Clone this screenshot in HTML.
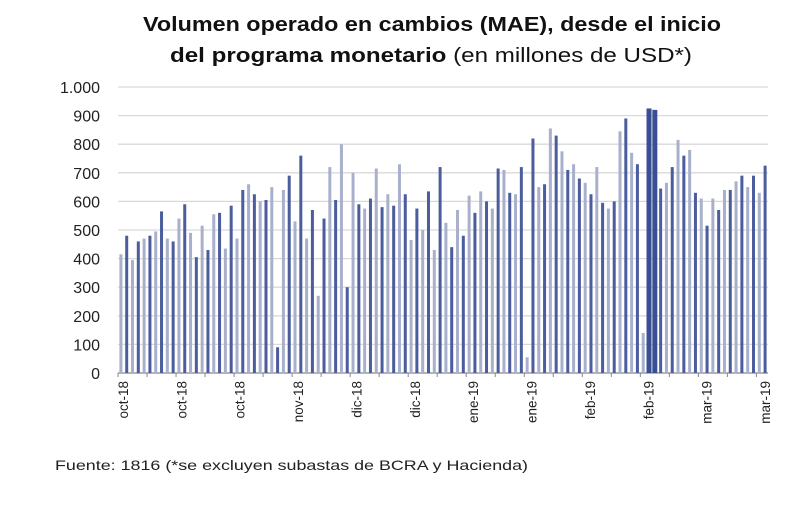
<!DOCTYPE html>
<html><head><meta charset="utf-8"><style>
body{margin:0;background:#fff;width:800px;height:514px;overflow:hidden;font-family:"Liberation Sans",sans-serif}
</style></head><body>
<svg width="800" height="514">
<text x="143" y="31" textLength="578" lengthAdjust="spacingAndGlyphs" font-size="20" font-weight="bold" fill="#111">Volumen operado en cambios (MAE), desde el inicio</text>
<text x="170" y="62" textLength="522" lengthAdjust="spacingAndGlyphs" font-size="20" fill="#111"><tspan font-weight="bold">del programa monetario</tspan> (en millones de USD*)</text>
<g id="grid"></g><g id="bars"></g><g id="xaxis"></g>
<text x="55" y="470" textLength="473" lengthAdjust="spacingAndGlyphs" font-size="14" fill="#222">Fuente: 1816 (*se excluyen subastas de BCRA y Hacienda)</text>
</svg>
<script>
const values=[415,480,395,460,470,480,495,565,470,460,540,590,490,405,515,430,555,560,435,585,470,640,660,625,600,605,650,90,640,690,530,760,470,570,270,540,720,605,800,300,700,590,575,610,715,580,625,585,730,625,465,575,500,635,430,720,525,440,570,480,620,560,635,600,575,715,710,630,625,720,55,820,650,660,855,830,775,710,730,680,665,625,720,595,575,600,845,890,770,730,140,925,920,645,665,720,815,760,780,630,610,515,610,570,640,640,670,690,650,690,630,725];
const yTicks=[0,100,200,300,400,500,600,700,800,900,1000];
const yLabels=["0","100","200","300","400","500","600","700","800","900","1.000"];
const xLabels=["oct-18","oct-18","oct-18","nov-18","dic-18","dic-18","ene-19","ene-19","feb-19","feb-19","mar-19","mar-19"];
const NS="http://www.w3.org/2000/svg";
const L=118,R=768,Y0=373,Y1=87;
const y=v=>Y0-(v/1000)*(Y0-Y1);
const step=(R-L)/values.length;
const x=i=>L+step*(i+0.5);
function mk(t,a,p){const e=document.createElementNS(NS,t);for(const k in a)e.setAttribute(k,a[k]);document.getElementById(p).appendChild(e);return e;}
yTicks.forEach((v,i)=>{
 const g=mk('line',{x1:L,x2:R,y1:y(v),y2:y(v),stroke:i?'#d9d9d9':'#888','stroke-width':1.3},'grid');
 
 
 const t=mk('text',{x:100,y:y(v)+6,'text-anchor':'end','font-size':16,fill:'#222'},'grid');
 t.textContent=yLabels[i];
 
 
});
values.forEach((v,i)=>{
 const big=v>=900&&v<=930;
 const w=big?5:3;
 const b=mk('rect',{x:x(i)-w/2,y:y(v),width:w,height:Y0-y(v),fill:big?'#3a4f93':(i%2?'#4c5d9e':'#a9b0cc')},'bars');
 
 
});
for(let i=0;i<=values.length;i+=5){mk('line',{x1:L+step*i,x2:L+step*i,y1:Y0,y2:Y0+4,stroke:'#888'},'xaxis');}
xLabels.forEach((s,i)=>{
 const px=123+i*(765-123)/11;
 const t=mk('text',{x:0,y:0,transform:`translate(${px+5},${381}) rotate(-90)`,'text-anchor':'end','font-size':13.5,fill:'#222'},'xaxis');
 t.textContent=s;
 
 
});
</script>
</body></html>
